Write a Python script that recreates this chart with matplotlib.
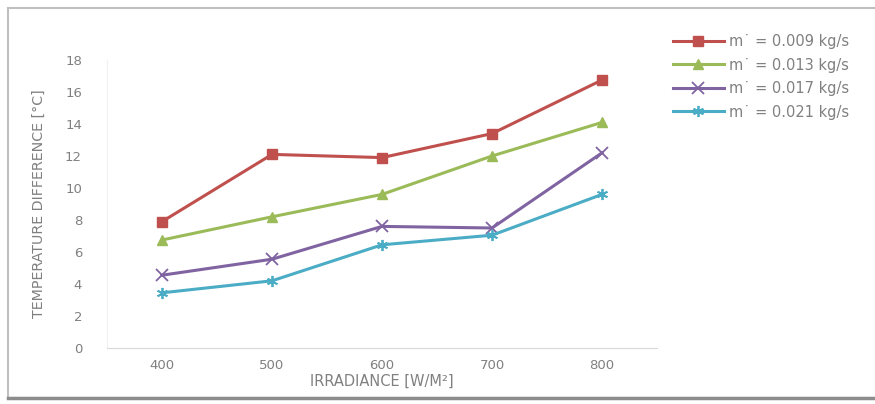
import matplotlib
matplotlib.use("Agg")
from matplotlib import pyplot as plt
from matplotlib.patches import Rectangle
from matplotlib.lines import Line2D

irradiance = ["400", "500", "600", "700", "800"]
dt_009 = [7.9, 12.1, 11.9, 13.4, 16.75]
dt_013 = [6.75, 8.2, 9.6, 12.0, 14.1]
dt_017 = [4.55, 5.55, 7.6, 7.5, 12.2]
dt_021 = [3.45, 4.2, 6.45, 7.05, 9.6]
labels = ["m\u02d9 = 0.009 kg/s", "m\u02d9 = 0.013 kg/s",
          "m\u02d9 = 0.017 kg/s", "m\u02d9 = 0.021 kg/s"]

plt.rcParams['font.family'] = ['DejaVu Sans']
txt = '#808080'

fig = plt.figure(figsize=(8.75, 4.04), dpi=100)
ax = fig.add_axes([0.1223, 0.1386, 0.6286, 0.7129])

x = range(len(irradiance))
ax.plot(x, dt_009, color='#C0504D', lw=2.2, marker='s', ms=6.5, label=labels[0])
ax.plot(x, dt_013, color='#9BBB59', lw=2.2, marker='^', ms=6.5, label=labels[1])
ax.plot(x, dt_017, color='#8064A2', lw=2.2, marker='x', ms=8, mew=1.3, label=labels[2])
ax.plot(x, dt_021, color='#4BACC6', lw=2.2, marker=(6, 2, 0), ms=8, mew=1.3, label=labels[3])

ax.set_xlim(-0.5, 4.5)
ax.set_ylim(0, 18)
ax.set_yticks(range(0, 19, 2))
ax.set_xticks(list(x))
ax.set_xticklabels(irradiance)
ax.tick_params(length=0, labelsize=9.5, colors=txt)
ax.tick_params(axis='y', pad=18)
ax.tick_params(axis='x', pad=8)
for s in ['top', 'right']:
    ax.spines[s].set_visible(False)
ax.spines['bottom'].set_color('#d9d9d9')
ax.spines['left'].set_color('#f0f0f0')

ax.set_xlabel("IRRADIANCE [W/M\u00b2]", fontsize=10.5, color=txt, labelpad=1)
ax.set_ylabel("TEMPERATURE DIFFERENCE [\u00b0C]", fontsize=10.3, color=txt,
              labelpad=14)

fig.legend(loc='upper left', bbox_to_anchor=(0.762, 0.93), frameon=False,
           fontsize=10.5, labelcolor=txt, handlelength=3.5, handletextpad=0.4,
           labelspacing=0.58, borderaxespad=0)

# outer chart border, darker along the bottom
fig.patches.append(Rectangle((0.009, 0.015), 1.2, 0.965, transform=fig.transFigure,
                             fill=False, edgecolor='#c0c0c0', lw=1.5))
fig.lines.append(Line2D([0.009, 1.0], [0.015, 0.015], transform=fig.transFigure,
                        color='#8c8c8c', lw=2.5))

fig.savefig("out.png", dpi=100)
